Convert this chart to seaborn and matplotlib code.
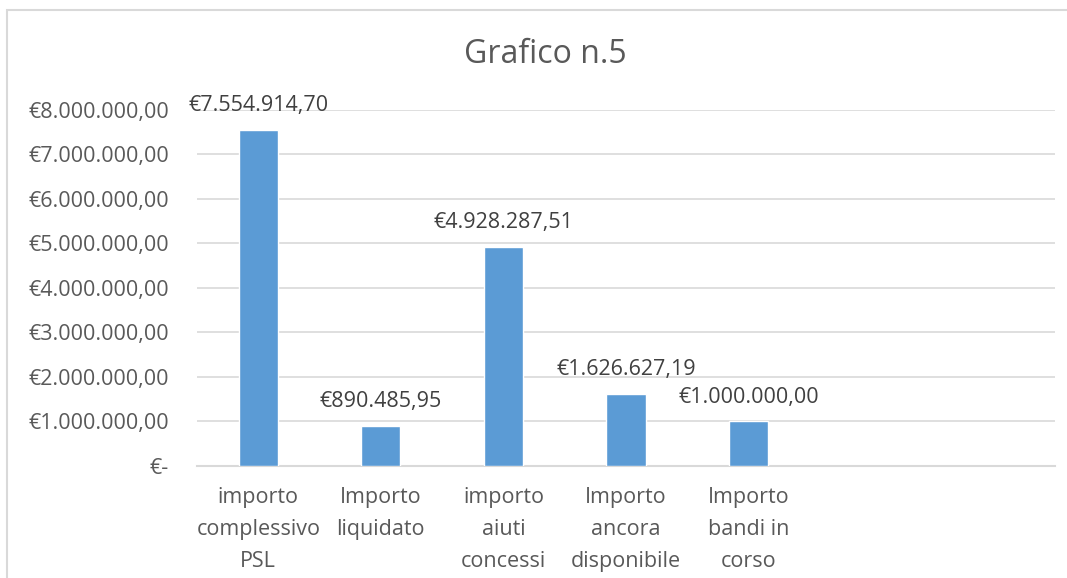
import matplotlib
matplotlib.use("Agg")
import matplotlib.pyplot as plt
from matplotlib.patches import Rectangle
from matplotlib.ticker import FuncFormatter
import pandas as pd
import seaborn as sns

categories = ["importo\ncomplessivo\nPSL", "Importo\nliquidato", "importo\naiuti\nconcessi",
              "Importo\nancora\ndisponibile", "Importo\nbandi in\ncorso"]
values = [7554914.70, 890485.95, 4928287.51, 1626627.19, 1000000.00]
y_ticks = [0, 1e6, 2e6, 3e6, 4e6, 5e6, 6e6, 7e6, 8e6]
n_slots = 7  # the original axis leaves room for two empty categories

sns.set_theme(style="white")
plt.rcParams['font.family'] = ['Open Sans', 'DejaVu Sans']

def euro(v):
    if v == 0:
        return "€-"
    s = f"{v:,.2f}"
    s = s.replace(",", "X").replace(".", ",").replace("X", ".")
    return "€" + s

df = pd.DataFrame({"Voce": categories, "Importo": values})

fig = plt.figure(figsize=(10.67, 5.78), dpi=100)
ax = fig.add_axes([0.1846, 0.1938, 0.8042, 0.6159])

sns.barplot(data=df, x="Voce", y="Importo", color="#5B9BD5", saturation=1, width=0.32, ax=ax, zorder=3)
ax.set_xlim(-0.5, n_slots - 0.5)
ax.set_ylim(0, 8e6)
ax.set_yticks(y_ticks)
ax.yaxis.set_major_formatter(FuncFormatter(lambda v, p: euro(v)))
ax.grid(axis="y", color="#d9d9d9", linewidth=1.2, zorder=0)
ax.set_xlabel("")
ax.set_ylabel("")
for side in ["top", "right", "left"]:
    ax.spines[side].set_visible(False)
ax.spines["bottom"].set_color("#d9d9d9")
ax.spines["bottom"].set_linewidth(1.5)
ax.tick_params(axis="y", length=0, pad=20, labelsize=15.5, labelcolor="#595959")
ax.tick_params(axis="x", length=0, pad=15, labelsize=15.5, labelcolor="#595959")
for lab in ax.get_xticklabels():
    lab.set_linespacing(1.68)

for i, v in enumerate(values):
    ax.annotate(euro(v), (i, v), xytext=(0, 10), textcoords="offset points",
                ha="center", va="bottom", fontsize=15.5, color="#404040")

fig.text(0.511, 0.905, "Grafico n.5", ha="center", va="center", fontsize=23, color="#595959")

fig.patches.append(Rectangle((7 / 1067, -0.1), 1.2, 1.1 - 10 / 578, transform=fig.transFigure,
                             fill=False, edgecolor="#d9d9d9", linewidth=1.5))

fig.savefig("out.png", dpi=100)
